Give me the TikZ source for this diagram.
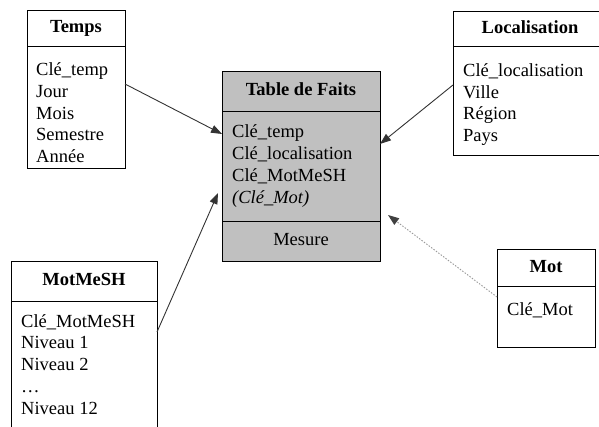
\documentclass[tikz,border=0pt]{standalone}
\usepackage{fontspec}
\setmainfont{Liberation Serif}
\usetikzlibrary{positioning,arrows.meta}
\definecolor{faitgris}{RGB}{192,192,192}
\tikzset{
  box/.style={draw=black, line width=1pt, inner sep=0pt, outer sep=0pt,
    text height=12pt, text depth=4pt},
  titre/.style={box, font=\fontsize{18.5}{21.6}\selectfont\bfseries},
  item/.style={inner sep=0pt, anchor=base west},
  lien/.style={draw=black!80, line width=0.9pt, -{Triangle[length=11pt,width=8pt]}},
  lienpt/.style={draw=black!40, line width=0.9pt, dash pattern=on 1.5pt off 1.5pt,
    -{Triangle[length=11pt,width=8pt,color=black!75,fill=black!75]}}
}
\begin{document}
\begin{tikzpicture}[x=1pt,y=-1pt,font=\fontsize{18.5}{21.6}\selectfont]
\useasboundingbox (0,0) rectangle (599,427);
% Temps
\node[titre, minimum width=98, minimum height=36, anchor=north west] (tempsh) at (27,11) {Temps};
\node[box, minimum width=98, minimum height=122, below=0pt of tempsh] (tempsb) {};
\foreach \t [count=\i] in {Clé\_temp, Jour, Mois, Semestre, Année}
  \node[item] (temps\i) at (36,{76+21.6*(\i-1)}) {\t};
% Table de Faits
\node[titre, fill=faitgris, minimum width=158, minimum height=40, anchor=north west] (faitsh) at (222,72) {Table de Faits};
\node[box, fill=faitgris, minimum width=158, minimum height=110, below=0pt of faitsh] (faitsb) {};
\node[box, fill=faitgris, minimum width=158, minimum height=40, below=0pt of faitsb] (mesure) {Mesure};
\foreach \t [count=\i] in {Clé\_temp, Clé\_localisation, Clé\_MotMeSH, \textit{(Clé\_Mot)}}
  \node[item] (faits\i) at (232,{138+21.7*(\i-1)}) {\t};
% Localisation
\node[titre, minimum width=154, minimum height=35, anchor=north west] (loch) at (453,12) {Localisation};
\node[box, minimum width=154, minimum height=109, below=0pt of loch] (locb) {};
\foreach \t [count=\i] in {Clé\_localisation, Ville, Région, Pays}
  \node[item] (loc\i) at (463,{77+21.5*(\i-1)}) {\t};
% MotMeSH
\node[titre, minimum width=146, minimum height=40, anchor=north west] (meshh) at (11,262) {MotMeSH};
\node[box, minimum width=146, minimum height=148, below=0pt of meshh] (meshb) {};
\foreach \t [count=\i] in {Clé\_MotMeSH, Niveau 1, Niveau 2, …, Niveau 12}
  \node[item] (mesh\i) at (21,{327+21.9*(\i-1)}) {\t};
% Mot
\node[titre, minimum width=98, minimum height=37, anchor=north west] (moth) at (497,250) {Mot};
\node[box, minimum width=98, minimum height=60, below=0pt of moth] (motb) {};
\node[item] (mot1) at (507,316) {Clé\_Mot};
% liens
\draw[lien] ([yshift=-37pt]tempsb.north east) -- ([yshift=-22pt]faitsb.north west);
\draw[lien] ([yshift=-38pt]locb.north west) -- ([yshift=-32pt]faitsb.north east);
\draw[lien] ([yshift=-30pt]meshb.north east) -- ([xshift=-4pt,yshift=-81pt]faitsb.north west);
\draw[lienpt] ([yshift=-10pt]motb.north west) -- ([xshift=8pt,yshift=-103pt]faitsb.north east);
\end{tikzpicture}
\end{document}
